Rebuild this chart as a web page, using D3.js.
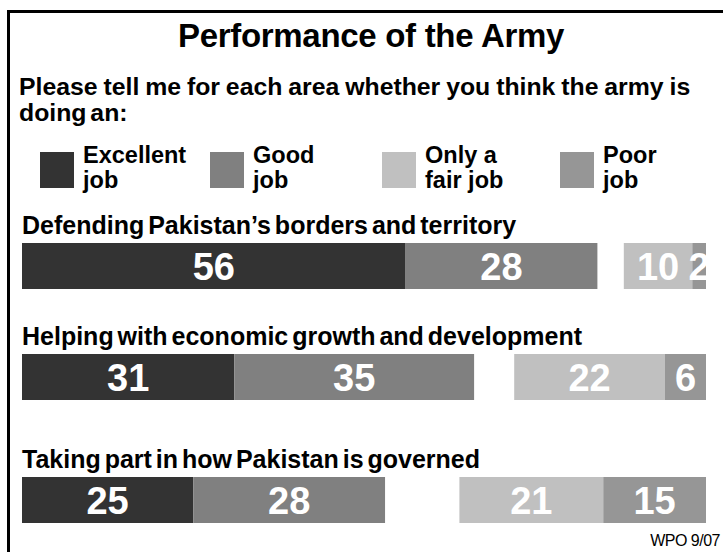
<!DOCTYPE html>
<html>
<head>
<meta charset="utf-8">
<script src="https://cdn.jsdelivr.net/npm/d3@7"></script>
<style>
  body { margin: 0; background: #fff; }
  svg { display: block; font-family: "Liberation Sans", Arial, sans-serif; }
</style>
</head>
<body>
<div id="chart"></div>
<script>
// survey data (percent)
const categories = [
  "Defending Pakistan\u2019s borders and territory",
  "Helping with economic growth and development",
  "Taking part in how Pakistan is governed"
];
const excellent = [56, 31, 25];
const good = [28, 35, 28];
const fair = [10, 22, 21];
const poor = [2, 6, 15];

const seriesNames = [["Excellent", "job"], ["Good", "job"], ["Only a", "fair job"], ["Poor", "job"]];
const colors = ["#333333", "#808080", "#c0c0c0", "#969696"];

const width = 723, height = 552;
const left = 22, right = 706, barH = 46;

const svg = d3.select("#chart").append("svg")
  .attr("width", width)
  .attr("height", height);

// frame (right and bottom edges run off the page)
svg.append("path")
  .attr("d", `M8.5,${height} V11.5 H${width}`)
  .attr("fill", "none")
  .attr("stroke", "#000")
  .attr("stroke-width", 3);

svg.append("text")
  .attr("x", 371).attr("y", 47)
  .attr("text-anchor", "middle")
  .style("font-size", "33px").style("font-weight", "bold")
  .style("letter-spacing", "-0.3px")
  .text("Performance of the Army");

svg.append("text")
  .attr("x", 19).attr("y", 95)
  .style("font-size", "24.8px").style("font-weight", "bold")
  .style("word-spacing", "-1px")
  .text("Please tell me for each area whether you think the army is");
svg.append("text")
  .attr("x", 19).attr("y", 121)
  .style("font-size", "24.8px").style("font-weight", "bold")
  .style("word-spacing", "-3px")
  .text("doing an:");

// legend
const legendX = d3.scaleOrdinal().domain(d3.range(4)).range([40, 210, 382, 560]);
const legend = svg.append("g").selectAll("g")
  .data(seriesNames)
  .enter().append("g")
  .attr("transform", (d, i) => `translate(${legendX(i)},152)`);
legend.append("rect")
  .attr("width", 34).attr("height", 36)
  .attr("fill", (d, i) => colors[i]);
legend.append("text")
  .style("font-size", "23.5px").style("font-weight", "bold")
  .selectAll("tspan")
  .data(d => d)
  .enter().append("tspan")
  .attr("x", 43)
  .attr("y", (d, j) => 11 + j * 25)
  .text(d => d);

// bars
const x = d3.scaleLinear().domain([0, 100]).range([0, 685]);
const rowY = d3.scaleOrdinal().domain(categories).range([243, 354, 477]);

const rows = categories.map((c, i) => {
  const segs = [];
  // positive side starts at left edge
  segs.push({ v: excellent[i], x0: left, k: 0 });
  segs.push({ v: good[i], x0: left + x(excellent[i]), k: 1 });
  // negative side ends at right edge
  segs.push({ v: fair[i], x0: right - x(fair[i] + poor[i]), k: 2 });
  segs.push({ v: poor[i], x0: right - x(poor[i]), k: 3 });
  return { c, segs };
});

const row = svg.append("g").selectAll("g")
  .data(rows)
  .enter().append("g")
  .attr("transform", d => `translate(0,${rowY(d.c)})`);

row.append("text")
  .attr("x", left).attr("y", -9)
  .style("font-size", "25px").style("font-weight", "bold")
  .style("word-spacing", "-3px")
  .text(d => d.c);

row.selectAll("rect")
  .data(d => d.segs)
  .enter().append("rect")
  .attr("x", d => d.x0)
  .attr("width", d => x(d.v))
  .attr("height", barH)
  .attr("fill", d => colors[d.k]);

row.selectAll(".val")
  .data(d => d.segs)
  .enter().append("text")
  .attr("class", "val")
  .attr("x", d => d.x0 + x(d.v) / 2)
  .attr("y", 37)
  .attr("text-anchor", "middle")
  .style("font-size", "38px").style("font-weight", "bold")
  .style("fill", "#fff")
  .text(d => d.v);

svg.append("text")
  .attr("x", 720).attr("y", 546)
  .attr("text-anchor", "end")
  .style("font-size", "16px")
  .style("letter-spacing", "-0.5px")
  .text("WPO 9/07");
</script>
</body>
</html>
